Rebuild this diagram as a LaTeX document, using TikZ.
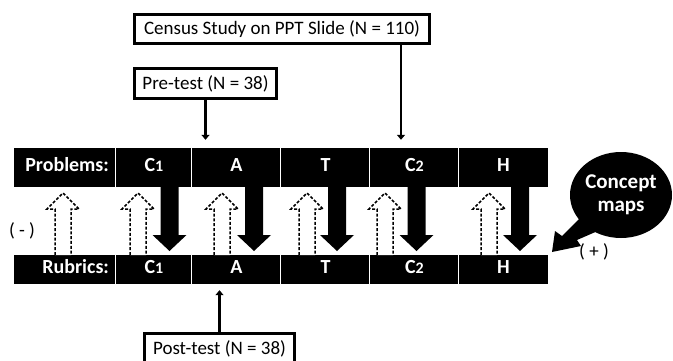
\documentclass[tikz,border=0pt]{standalone}
\usepackage{fontspec}
\setmainfont{Carlito}
\usetikzlibrary{arrows.meta,shapes.geometric,calc}
\begin{document}
\begin{tikzpicture}[x=1pt,y=-1pt,
  cell/.style={fill=black, text=white, font=\fontsize{20}{22}\selectfont\bfseries, inner sep=0pt, text height=12pt, text depth=4pt},
  toprow/.style={cell, minimum height=39pt},
  botrow/.style={cell, minimum height=29pt},
  sep/.style={draw=white, line width=0.9pt},
  box/.style={draw=black, line width=3pt, fill=white, inner sep=0pt, font=\fontsize{19}{21}\selectfont},
  conn/.style={draw=black, line width=2.5pt, -{Triangle[width=8pt,length=5pt]}},
  dasharrow/.style={draw=black, line width=1.5pt, dash pattern=on 3pt off 1.8pt, fill=white},
  lbl/.style={inner sep=0pt, font=\fontsize{19}{21}\selectfont}
]
\clip (0,0) rectangle (673,360);
\fill[white] (0,0) rectangle (673,360);

% top row
\node[toprow, minimum width=102pt, text width=88pt, align=right] (pP) at (65,167.5) {Problems:};
\node[toprow, minimum width=76pt] (p1) at (154,167.5) {C{\fontsize{16}{16}\selectfont 1}};
\node[toprow, minimum width=89pt] (pA) at (236.5,167.5) {A};
\node[toprow, minimum width=89pt] (pT) at (325.5,167.5) {T};
\node[toprow, minimum width=89pt] (pC) at (414.5,167.5) {C{\fontsize{16}{16}\selectfont 2}};
\node[toprow, minimum width=89pt] (pH) at (503.5,167.5) {H};
% bottom row
\node[botrow, minimum width=102pt, text width=88pt, align=right] (rP) at (65,269.5) {Rubrics:};
\node[botrow, minimum width=76pt] (r1) at (154,269.5) {C{\fontsize{16}{16}\selectfont 1}};
\node[botrow, minimum width=89pt] (rA) at (236.5,269.5) {A};
\node[botrow, minimum width=89pt] (rT) at (325.5,269.5) {T};
\node[botrow, minimum width=89pt] (rC) at (414.5,269.5) {C{\fontsize{16}{16}\selectfont 2}};
\node[botrow, minimum width=89pt] (rH) at (503.5,269.5) {H};
\foreach \n in {p1,pA,pT,pC,pH,r1,rA,rT,rC,rH}
  \draw[sep] (\n.north west) -- (\n.south west);

% solid down block arrows
\foreach \x in {169.5,254,337,416.5,520}
  \fill[black] ({\x-9},186) -- ({\x+9},186) -- ({\x+9},235) -- ({\x+17},235) -- (\x,251) -- ({\x-17},235) -- ({\x-9},235) -- cycle;

% dashed hollow up arrows
\foreach \x in {63,138,222,307,385,489}
  \draw[dasharrow] ({\x-8},255) -- ({\x-8},209) -- ({\x-16},209) -- (\x,193) -- ({\x+16},209) -- ({\x+8},209) -- ({\x+8},255);

% concept maps bubble
\fill[black] (552,252) -- (555,231) -- (562,236) -- (582,216) -- (600,230) -- (577,240) -- (581,246) -- cycle;
\node[ellipse, fill=black, minimum width=102pt, minimum height=86pt, inner sep=0pt, text=white, align=center, font=\fontsize{21}{23}\selectfont\bfseries] (cm) at (621,195) {Concept\\maps};

\node[lbl] (minus) at (22,231) {( - )};
\node[lbl] (plus) at (594,252) {( + )};

% boxes
\node[box, minimum width=295pt, minimum height=29pt] (census) at (282,29) {Census Study on PPT Slide (N = 110)};
\node[box, minimum width=142pt, minimum height=30pt] (pre) at (205.5,83.5) {Pre-test (N = 38)};
\node[box, minimum width=150pt, minimum height=31pt] (post) at (219.5,349) {Post-test (N = 38)};

% connectors
\draw[conn, shorten >=8pt] (pre.south) -- (pre.south |- pA.north);
\draw[conn, shorten >=8pt] ([xshift=-30pt]census.south east) -- ([xshift=-30pt]census.south east |- pC.north);
\draw[conn, shorten >=6pt] (post.north) -- (post.north |- rA.south);
\end{tikzpicture}
\end{document}
